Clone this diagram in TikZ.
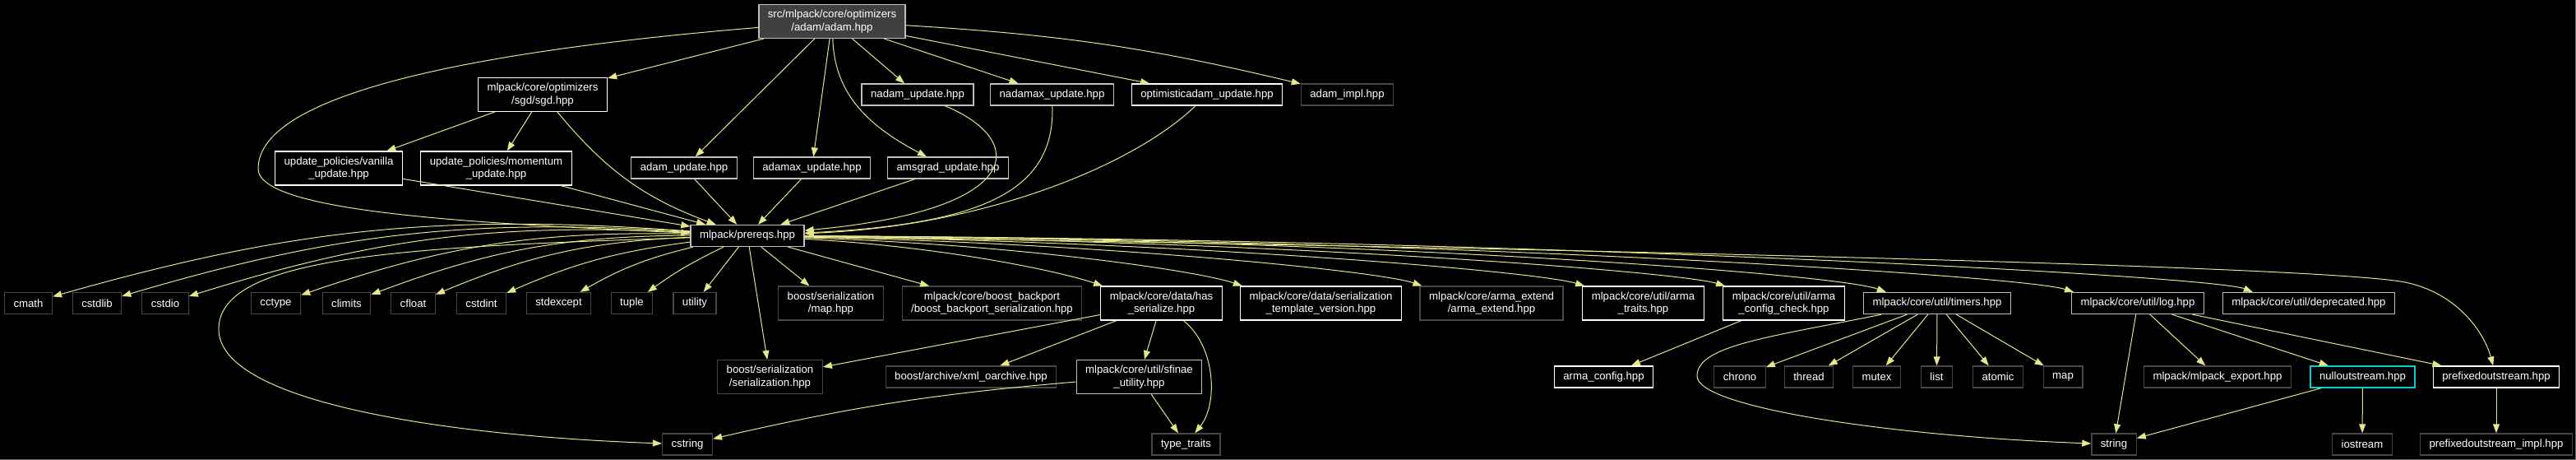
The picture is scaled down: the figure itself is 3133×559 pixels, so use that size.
\documentclass[tikz,border=0pt]{standalone}
\usepackage{fontspec}
\setmainfont{Liberation Sans}
\usetikzlibrary{arrows.meta}
\definecolor{edgeyellow}{RGB}{230,230,140}
\definecolor{lightborder}{RGB}{191,191,191}
\definecolor{darkborder}{RGB}{72,72,72}
\definecolor{curfill}{RGB}{64,64,64}
\definecolor{cyanborder}{RGB}{0,210,210}
\definecolor{framegray}{RGB}{110,110,110}

\begin{document}
\begin{tikzpicture}[
  x=1pt, y=-1pt,
  every node/.style = {shape=rectangle, draw=white, fill=black, text=white, align=center,
    line width=1.3pt, inner xsep=11pt, inner ysep=6.5pt, minimum height=26pt,
    font=\fontsize{13.2}{15.5}\selectfont},
  linked/.style = {draw=lightborder},
  extern/.style = {draw=darkborder},
  current/.style = {draw=lightborder, fill=curfill},
  cyclic/.style = {draw=cyanborder},
  dep/.style = {color=edgeyellow, line width=1pt, -{Triangle[length=11pt,width=8pt]}}
]
  \useasboundingbox (0,0) rectangle (3133,559);
  \fill[black] (0,0) rectangle (3133,559);
  \draw[framegray, line width=1pt] (3132.5,0) -- (3132.5,558.5) -- (0,558.5);

  % the file itself
  \node[current] (adam) at (1012,26) {src/mlpack/core/optimizers\\/adam/adam.hpp};

  % direct includes
  \node (sgd) at (660,115) {mlpack/core/optimizers\\/sgd/sgd.hpp};
  \node[linked] (nadam) at (1116,115) {nadam\_update.hpp};
  \node[linked] (nadamax) at (1279.5,115) {nadamax\_update.hpp};
  \node (optadam) at (1468,115) {optimisticadam\_update.hpp};
  \node[extern] (adamimpl) at (1638.5,115) {adam\_impl.hpp};

  \node (vanilla) at (412,204.5) {update\_policies/vanilla\\\_update.hpp};
  \node (momentum) at (603.5,204.5) {update\_policies/momentum\\\_update.hpp};
  \node[linked] (adamupd) at (832,204) {adam\_update.hpp};
  \node[linked] (adamaxupd) at (987.5,204) {adamax\_update.hpp};
  \node[linked] (amsgrad) at (1153,204) {amsgrad\_update.hpp};

  \node[linked] (prereqs) at (909,286.5) {mlpack/prereqs.hpp};

  % what prereqs.hpp pulls in
  \node[extern] (cmath) at (34.5,368.5) {cmath};
  \node[extern] (cstdlib) at (118,368.5) {cstdlib};
  \node[extern] (cstdio) at (201,368.5) {cstdio};
  \node[extern] (cctype) at (335.5,368.5) {cctype};
  \node[extern] (climits) at (421.5,368.5) {climits};
  \node[extern] (cfloat) at (502.5,368.5) {cfloat};
  \node[extern] (cstdint) at (585.5,368.5) {cstdint};
  \node[extern] (stdexcept) at (679.5,368.5) {stdexcept};
  \node[extern] (tuple) at (768.5,368.5) {tuple};
  \node[extern] (utility) at (845,368.5) {utility};
  \node[extern] (sermap) at (1010.5,368.5) {boost/serialization\\/map.hpp};
  \node[extern] (backport) at (1206.5,368.5) {mlpack/core/boost\_backport\\/boost\_backport\_serialization.hpp};
  \node (hasser) at (1412.5,368.5) {mlpack/core/data/has\\\_serialize.hpp};
  \node (sertv) at (1606.5,368.5) {mlpack/core/data/serialization\\\_template\_version.hpp};
  \node[extern] (armaext) at (1814,368.5) {mlpack/core/arma\_extend\\/arma\_extend.hpp};
  \node (armatraits) at (1998.5,368.5) {mlpack/core/util/arma\\\_traits.hpp};
  \node (armacheck) at (2169.5,368.5) {mlpack/core/util/arma\\\_config\_check.hpp};
  \node[linked] (timers) at (2356,368.5) {mlpack/core/util/timers.hpp};
  \node[linked] (log) at (2600,368.5) {mlpack/core/util/log.hpp};
  \node[linked] (deprecated) at (2808,368.5) {mlpack/core/util/deprecated.hpp};

  \node[extern] (serhpp) at (936.5,458) {boost/serialization\\/serialization.hpp};
  \node[extern] (xmlarch) at (1181,458) {boost/archive/xml\_oarchive.hpp};
  \node[linked] (sfinae) at (1385.5,458) {mlpack/core/util/sfinae\\\_utility.hpp};
  \node (armaconfig) at (1950.5,458) {arma\_config.hpp};
  \node[extern] (chrono) at (2116,458) {chrono};
  \node[extern] (thread) at (2200,458) {thread};
  \node[extern] (mutex) at (2282.5,458) {mutex};
  \node[extern] (list) at (2355.5,458) {list};
  \node[extern] (atomic) at (2430,458) {atomic};
  \node[extern] (stdmap) at (2509,458) {map};
  \node[extern] (mlexport) at (2697,458) {mlpack/mlpack\_export.hpp};
  \node[cyclic] (nullout) at (2873.5,458) {nulloutstream.hpp};
  \node (prefout) at (3036,458) {prefixedoutstream.hpp};

  \node[extern] (cstring) at (836,540) {cstring};
  \node[extern] (typetraits) at (1442.5,540) {type\_traits};
  \node[extern] (string) at (2571,540) {string};
  \node[extern] (iostream) at (2873,540) {iostream};
  \node[extern] (prefimpl) at (3036,540) {prefixedoutstream\_impl.hpp};

  % turning points of the long curves
  \coordinate (loopA) at (314,205);
  \coordinate (loopB) at (266,400);
  \coordinate (loopC) at (2064,457);
  \coordinate (loopD) at (2925,343);

  % edges out of adam.hpp
  \draw[dep] (adam) .. controls (600,60) and (314,110) .. (loopA)
    .. controls (314,260) and (600,272) .. (prereqs);
  \path[dep] (adam) edge (sgd) edge (adamupd) edge (adamaxupd)
    edge (nadam) edge (nadamax) edge (optadam)
    edge[bend left=5] (adamimpl);
  \draw[dep] (adam) .. controls (1015,110) and (1050,150) .. (amsgrad);

  \path[dep] (sgd) edge (vanilla) edge (momentum) edge[bend right=15] (prereqs);
  \path[dep] (vanilla) edge (prereqs);
  \path[dep] (momentum) edge (prereqs);
  \path[dep] (adamupd) edge (prereqs);
  \path[dep] (adamaxupd) edge (prereqs);
  \path[dep] (amsgrad) edge (prereqs);
  \draw[dep] (nadam) .. controls (1250,170) and (1250,255) .. (prereqs);
  \draw[dep] (nadamax) .. controls (1283,230) and (1200,272) .. (prereqs);
  \draw[dep] (optadam) .. controls (1380,200) and (1200,275) .. (prereqs);

  % edges out of prereqs.hpp
  \path[dep] (prereqs) edge[bend right=10] (cmath) edge[bend right=10] (cstdlib)
    edge[bend right=10] (cstdio) edge[bend right=10] (cctype)
    edge[bend right=10] (climits) edge[bend right=10] (cfloat)
    edge[bend right=8] (cstdint) edge[bend right=8] (stdexcept)
    edge[bend right=5] (tuple) edge (utility)
    edge (sermap) edge (backport) edge (serhpp);
  \draw[dep] (prereqs) .. controls (1150,300) and (1290,330) .. ([xshift=3pt]hasser.north west);
  \draw[dep] (prereqs) .. controls (1250,298) and (1460,330) .. ([xshift=3pt]sertv.north west);
  \draw[dep] (prereqs) .. controls (1350,296) and (1680,330) .. ([xshift=3pt]armaext.north west);
  \draw[dep] (prereqs) .. controls (1450,294) and (1870,330) .. ([xshift=3pt]armatraits.north west);
  \draw[dep] (prereqs) .. controls (1550,292) and (2040,330) .. ([xshift=3pt]armacheck.north west);
  \draw[dep] (prereqs) .. controls (1650,290) and (2230,332) .. ([xshift=28pt]timers.north west);
  \draw[dep] (prereqs) .. controls (1750,290) and (2460,335) .. ([xshift=3pt]log.north west);
  \draw[dep] (prereqs) .. controls (1850,290) and (2690,335) .. ([xshift=37pt]deprecated.north west);
  \draw[dep] (prereqs) .. controls (500,300) and (266,310) .. (loopB)
    .. controls (266,490) and (550,530) .. (cstring);
  \draw[dep] (prereqs) .. controls (1800,300) and (2820,322) .. (loopD)
    .. controls (2985,355) and (3020,400) .. (prefout);

  \path[dep] (hasser) edge (serhpp) edge (xmlarch) edge (sfinae);
  \draw[dep] (hasser) .. controls (1478,420) and (1482,490) .. (typetraits);
  \path[dep] (sfinae) edge[bend right=4] (cstring) edge (typetraits);
  \path[dep] (armacheck) edge (armaconfig);

  \path[dep] (timers) edge (chrono) edge (thread) edge (mutex)
    edge (list) edge (atomic) edge (stdmap);
  \draw[dep] (timers) .. controls (2150,410) and (2064,420) .. (loopC)
    .. controls (2064,495) and (2300,530) .. (string);
  \path[dep] (log) edge (string) edge (mlexport) edge (nullout) edge (prefout);
  \path[dep] (nullout) edge (string) edge (iostream);
  \path[dep] (prefout) edge (prefimpl);
\end{tikzpicture}
\end{document}
